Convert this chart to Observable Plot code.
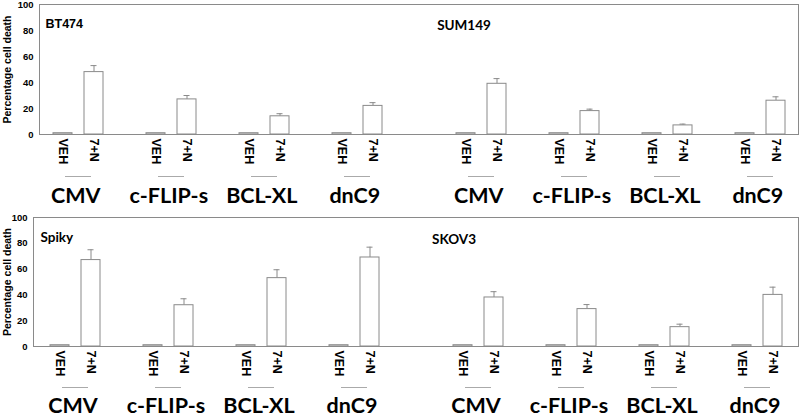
<!DOCTYPE html>
<html><head><meta charset="utf-8">
<script src="https://cdn.jsdelivr.net/npm/d3@7"></script>
<script src="https://cdn.jsdelivr.net/npm/@observablehq/plot@0.6"></script>
<style>
body{margin:0;background:#fff;width:800px;height:416px;overflow:hidden}
#chart svg{display:block}
</style></head><body><div id="chart"></div>
<script>
// categories
const constructs = ["CMV", "c-FLIP-s", "BCL-XL", "dnC9"];
const treatments = ["VEH", "7+N"];
const topLines = ["BT474", "SUM149"];
const bottomLines = ["Spiky", "SKOV3"];
const yTicks = [0, 20, 40, 60, 80, 100];
const yLabel = "Percentage cell death";

// values (percentage cell death)
const bt474VEH = [1, 1, 1, 1];
const bt474TN = [48, 27, 14, 22];
const bt474Err = [5, 3, 2, 2.5];
const sum149VEH = [1, 1, 1, 1];
const sum149TN = [39, 18, 7, 26];
const sum149Err = [4, 1.5, 1, 3];
const spikyVEH = [1, 1, 1, 1];
const spikyTN = [67, 32, 53, 69];
const spikyErr = [8, 5, 6.5, 8];
const skov3VEH = [1, 1, 1, 1];
const skov3TN = [38, 29, 15, 40];
const skov3Err = [4.5, 3.5, 2.3, 6];

const GRAY = "#8a8a8a";
const key = (line, c, t) => `${line}|${c}|${t}`;

function panel(cfg) {
  const {lines, veh, tn, err, height, marginTop, marginBottom, marginLeft, marginRight,
         groupDy, lineDy, titleDy1, titleDy2, titleDx1, titleDx2, yLabelOffset} = cfg;
  const domain = [];
  const rows = [];
  const pairs = [];
  lines.forEach((line, li) => {
    constructs.forEach((c, ci) => {
      domain.push(key(line, c, treatments[0]), key(line, c, treatments[1]));
      if (!(li === lines.length - 1 && ci === constructs.length - 1)) domain.push(key(line, c, "gap"));
      rows.push({key: key(line, c, treatments[0]), value: veh[li][ci], err: 0});
      rows.push({key: key(line, c, treatments[1]), value: tn[li][ci], err: err[li][ci]});
      pairs.push({construct: c, k1: key(line, c, treatments[0]), k2: key(line, c, treatments[1])});
    });
    if (li < lines.length - 1) domain.push(`${line}|sep`);
  });
  const realKeys = rows.map(d => d.key);
  const step = (800 - marginLeft - marginRight) / domain.length;
  const errRows = rows.filter(d => d.err > 0);
  const svg = Plot.plot({
    width: 800, height, marginTop, marginBottom, marginLeft, marginRight,
    style: "font-family: 'Liberation Sans', Arial, sans-serif; font-weight: bold; color: #000; background: #fff;",
    x: {domain, paddingInner: 0.4, paddingOuter: 0.2, axis: null},
    y: {domain: [0, 100], axis: null},
    marks: [
      Plot.frame({stroke: GRAY}),
      Plot.axisY({ticks: yTicks, tickSize: 0, tickPadding: 6, fontSize: 9.5, label: null}),
      Plot.axisY({ticks: [], tickSize: 0, label: yLabel, labelAnchor: "center", labelArrow: "none",
                  labelOffset: yLabelOffset, fontSize: 10.5}),
      Plot.axisX({ticks: realKeys, tickFormat: k => k.split("|")[2], tickRotate: 90, tickSize: 0,
                  tickPadding: 4, fontSize: 12.5, label: null}),
      Plot.ruleX(errRows, {x: "key", y1: "value", y2: d => d.value + d.err, stroke: GRAY}),
      Plot.tickY(errRows, {x: "key", y: d => d.value + d.err, stroke: GRAY, insetLeft: 6.5, insetRight: 6.5}),
      Plot.barY(rows, {x: "key", y: "value", fill: "white", stroke: GRAY}),
      Plot.ruleY(pairs, {y: () => 0, x1: "k1", x2: "k2", insetLeft: 12, insetRight: 12,
                         dy: lineDy, stroke: "#aaa"}),
      Plot.text(pairs, {x: "k1", text: "construct", frameAnchor: "bottom", dy: groupDy, dx: step / 2 - 3,
                        fontFamily: "Lato, 'Open Sans', sans-serif", fontSize: 21.5, fontWeight: "bold", fill: "#000"}),
      Plot.text([lines[0]], {text: d => d, frameAnchor: "top-left", textAnchor: "start", dx: titleDx1, dy: titleDy1,
                             fontSize: cfg.title1Size, fontFamily: cfg.title1Font, fill: "#000"}),
      Plot.text([lines[1]], {text: d => d, x: () => key(lines[1], constructs[0], treatments[0]), frameAnchor: "top",
                             dx: titleDx2, dy: titleDy2, fontSize: 13.5, fontFamily: "Lato, sans-serif", fill: "#000"})
    ]
  });
  // fallback: strip any axis-label arrow if the option is unsupported
  svg.querySelectorAll("text").forEach(t => {
    if (t.textContent.includes("↑")) t.textContent = t.textContent.replace(/\s*↑\s*/g, "").trim();
  });
  return svg;
}

const chart = document.getElementById("chart");
chart.append(panel({
  lines: topLines, veh: [bt474VEH, sum149VEH], tn: [bt474TN, sum149TN], err: [bt474Err, sum149Err],
  height: 208, marginTop: 4, marginBottom: 74, marginLeft: 39, marginRight: 2,
  groupDy: 68, lineDy: 42, titleDx1: 6, titleDy1: 14.5, titleDx2: -2, titleDy2: 15.5, yLabelOffset: 36,
  title1Size: 12.5, title1Font: "'Liberation Sans', Arial, sans-serif"
}));
chart.append(panel({
  lines: bottomLines, veh: [spikyVEH, skov3VEH], tn: [spikyTN, skov3TN], err: [spikyErr, skov3Err],
  height: 208, marginTop: 9, marginBottom: 70, marginLeft: 33, marginRight: 2,
  groupDy: 66, lineDy: 41, titleDx1: 7, titleDy1: 15, titleDx2: -9, titleDy2: 16.5, yLabelOffset: 30,
  title1Size: 13.5, title1Font: "Lato, sans-serif"
}));
</script></body></html>
